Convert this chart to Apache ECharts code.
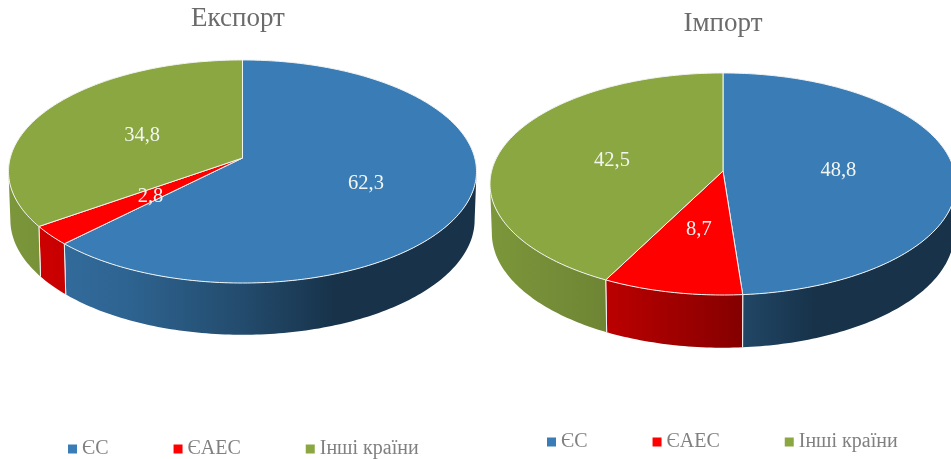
<!DOCTYPE html>
<html>
<head>
<meta charset="utf-8">
<script src="https://cdn.jsdelivr.net/npm/echarts@6/dist/echarts.min.js"></script>
<style>html,body{margin:0;padding:0;background:#fff}#chart{width:951px;height:459px;filter:blur(0.6px)}</style>
</head>
<body>
<div id="chart"></div>
<script>
// ---- data ----
const categories = ['ЄС', 'ЄАЕС', 'Інші країни'];
const exportValues = [62.3, 2.8, 34.8];
const importValues = [48.8, 8.7, 42.5];
const titles = ['Експорт', 'Імпорт'];

// ---- style and layout ----
const colors = ['#3a7db6', '#ff0000', '#8aa741'];
const wallGain = [1, 0.92, 1];
const FONT = '"Liberation Serif","Times New Roman",serif';
const pies = [
  { values: exportValues, cx: 242.5, ay: 158, a: 234, k: 0.121, B: 109.9, drop: 48, labelR: [0.56, 0.5, 0.5] },
  { values: importValues, cx: 723, ay: 171, a: 233, k: 0.117, B: 109.5, drop: 49, labelR: [0.5, 0.5, 0.5] }
];

const D = Math.PI / 180;
function project(p, deg, r, dy, scaleX, scaleY) {
  const A = p.a * Math.sqrt(1 - p.k * p.k);
  const X = Math.sin(deg * D) * r, Y = Math.cos(deg * D) * r;
  const w = 1 + p.k * Y;
  return [p.cx + (A * scaleX * X) / w, p.ay + dy - (p.B * scaleY * Y) / w];
}
const rim = (p, deg) => project(p, deg, 1, 0, 1, 1);
const foot = (p, deg) => project(p, deg, 1, p.drop, 0.992, 1.03);

function wallShade(t) {
  const pts = [[0, 0.9], [0.245, 0.8], [0.5, 0.6], [0.7, 0.4], [1, 0.4]];
  for (let i = 1; i < pts.length; i++) {
    if (t <= pts[i][0]) {
      const u = (t - pts[i - 1][0]) / (pts[i][0] - pts[i - 1][0]);
      return pts[i - 1][1] + u * (pts[i][1] - pts[i - 1][1]);
    }
  }
  return 0.4;
}
function shadeHex(hex, f) {
  const n = parseInt(hex.slice(1), 16);
  const c = [(n >> 16) & 255, (n >> 8) & 255, n & 255].map(v => Math.round(v * f));
  return 'rgb(' + c.join(',') + ')';
}
function wallFill(p, catIndex) {
  const stops = [];
  for (let i = 0; i <= 20; i++) {
    const t = i / 20;
    stops.push({ offset: t, color: shadeHex(colors[catIndex], wallShade(t) * wallGain[catIndex]) });
  }
  return new echarts.graphic.LinearGradient(p.cx - p.a, 0, p.cx + p.a, 0, stops, true);
}

function makeRender(p, catIndex) {
  return function (params, api) {
    const value = api.value(0);
    const sum = p.values.reduce((s, v) => s + v, 0);
    const before = p.values.slice(0, catIndex).reduce((s, v) => s + v, 0);
    const start = (before / sum) * 360;
    const end = ((before + value) / sum) * 360;
    const children = [];

    // front wall, limited to the part of the rim that faces the viewer
    const silA = 90 + Math.asin(p.k) / D;
    const silB = 360 - silA;
    const ws = Math.max(start, silA), we = Math.min(end, silB);
    if (we > ws) {
      const top = [], bottom = [];
      for (let d = ws; d < we; d += 1) { top.push(rim(p, d)); bottom.push(foot(p, d)); }
      top.push(rim(p, we)); bottom.push(foot(p, we));
      children.push({
        type: 'polygon',
        shape: { points: top.concat(bottom.reverse()) },
        style: { fill: wallFill(p, catIndex), stroke: null }
      });
      [ws, we].forEach(d => {
        if ((d === start || d === end)) {
          const a = rim(p, d), b = foot(p, d);
          children.push({
            type: 'line',
            shape: { x1: a[0], y1: a[1], x2: b[0], y2: b[1] },
            style: { stroke: '#f4f4f4', lineWidth: 1 }
          });
        }
      });
    }

    // top face
    const pts = [[p.cx, p.ay]];
    for (let d = start; d < end; d += 1) pts.push(rim(p, d));
    pts.push(rim(p, end));
    children.push({
      type: 'polygon',
      shape: { points: pts },
      style: { fill: colors[catIndex], stroke: '#f2f4f2', lineWidth: 1, lineJoin: 'round' }
    });

    // value label
    const mid = (start + end) / 2;
    const lp = project(p, mid, p.labelR[catIndex], 0, 1, 1);
    children.push({
      type: 'text',
      z2: 10,
      style: {
        x: lp[0], y: lp[1] + 2,
        text: String(value).replace('.', ','),
        fill: '#f3f5f2',
        font: '20.5px ' + FONT,
        align: 'center',
        verticalAlign: 'middle'
      }
    });
    return { type: 'group', children };
  };
}

const series = [];
pies.forEach(p => {
  categories.forEach((name, i) => {
    series.push({
      type: 'custom',
      name,
      coordinateSystem: 'none',
      silent: true,
      clip: false,
      itemStyle: { color: colors[i] },
      data: [[p.values[i]]],
      renderItem: makeRender(p, i)
    });
  });
});

const legendBase = {
  data: categories,
  icon: 'rect',
  itemWidth: 9,
  itemHeight: 9,
  itemGap: 65,
  selectedMode: false,
  orient: 'horizontal',
  textStyle: { fontFamily: FONT, fontSize: 20, color: '#808080' }
};

const chart = echarts.init(document.getElementById('chart'), null, { renderer: 'canvas', width: 951, height: 459 });
chart.setOption({
  animation: false,
  backgroundColor: '#fff',
  title: [
    { text: titles[0], left: 233, top: 0, textAlign: 'center', textStyle: { fontFamily: FONT, fontSize: 27, fontWeight: 'normal', color: '#6b6b6b' } },
    { text: titles[1], left: 718, top: 5, textAlign: 'center', textStyle: { fontFamily: FONT, fontSize: 27, fontWeight: 'normal', color: '#6b6b6b' } }
  ],
  legend: [
    Object.assign({}, legendBase, { left: 63, top: 434 }),
    Object.assign({}, legendBase, { left: 542, top: 427 })
  ],
  series
});
</script>
</body>
</html>
